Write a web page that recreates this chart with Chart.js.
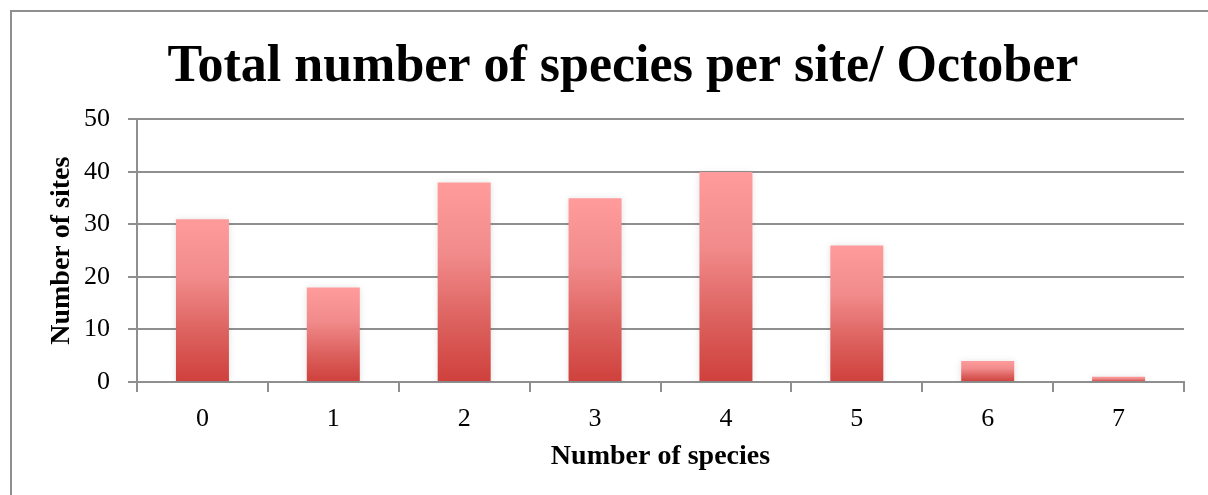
<!DOCTYPE html>
<html>
<head>
<meta charset="utf-8">
<script src="https://cdn.jsdelivr.net/npm/chart.js@4.4.1/dist/chart.umd.min.js"></script>
<style>
  html, body { margin: 0; padding: 0; background: #fff; overflow: hidden; }
  #frame { position: absolute; left: 10px; top: 10px; width: 1400px; height: 700px;
           border-left: 2px solid #8f8f8f; border-top: 2px solid #8f8f8f; }
  #chart { position: absolute; left: 0; top: 0; }
</style>
</head>
<body>
<div id="frame"></div>
<canvas id="chart" width="1208" height="495"></canvas>
<script>
'use strict';

// ── データ ────────────────────────────────────────────────
const speciesCounts = ['0', '1', '2', '3', '4', '5', '6', '7'];
const siteCounts    = [31, 18, 38, 35, 40, 26, 4, 1];
const yTicks        = [0, 10, 20, 30, 40, 50];

const titleText  = 'Total number of species per site/ October';
const xTitleText = 'Number of species';
const yTitleText = 'Number of sites';

const GRID = '#8f8f8f';
const SERIF = "'Liberation Serif', 'DejaVu Serif', serif";

// ── バーのグラデーション（各バー上端→下端）─────────────────
function barGradient(ctx) {
  const chart = ctx.chart;
  if (!chart.chartArea || ctx.parsed == null) return '#e57373';
  const y = chart.scales.y;
  const top = y.getPixelForValue(ctx.parsed.y);
  const bottom = y.getPixelForValue(0);
  const g = chart.ctx.createLinearGradient(0, top, 0, bottom + 0.01);
  g.addColorStop(0, '#ff9b9b');
  g.addColorStop(0.35, '#f28c8c');
  g.addColorStop(0.7, '#dc615e');
  g.addColorStop(1, '#cf403c');
  return g;
}

// ── 影 ────────────────────────────────────────────────────
const barShadow = {
  id: 'barShadow',
  beforeDatasetDraw(chart) {
    const c = chart.ctx;
    c.save();
    c.shadowColor = 'rgba(0,0,0,0.13)';
    c.shadowBlur = 7;
    c.shadowOffsetX = 0;
    c.shadowOffsetY = 1;
  },
  afterDatasetDraw(chart) {
    chart.ctx.restore();
  },
};

new Chart(document.getElementById('chart').getContext('2d'), {
  type: 'bar',
  data: {
    labels: speciesCounts,
    datasets: [{
      data: siteCounts,
      backgroundColor: barGradient,
      borderWidth: 0,
      barPercentage: 0.405,
      categoryPercentage: 1,
    }],
  },
  options: {
    responsive: false,
    animation: false,
    // 左余白はタイトルの中心位置合わせ用
    layout: { padding: { left: 62, right: 24, top: 0, bottom: 18 } },
    plugins: {
      legend: { display: false },
      tooltip: { enabled: false },
      title: {
        display: true,
        text: titleText,
        color: '#000',
        font: { family: SERIF, size: 52, weight: 'bold' },
        padding: { top: 36, bottom: 21 },
      },
    },
    scales: {
      x: {
        offset: true,
        grid: {
          offset: true,
          drawOnChartArea: false,
          drawTicks: true,
          tickLength: 10,
          color: GRID,
          lineWidth: 2,
        },
        border: { color: GRID, width: 2 },
        ticks: { color: '#000', padding: 12, font: { family: SERIF, size: 26 } },
        title: {
          display: true,
          text: xTitleText,
          color: '#000',
          font: { family: SERIF, size: 28, weight: 'bold' },
          padding: { top: 0, bottom: 3 },
        },
        afterFit(scale) { scale.height = 95; },
      },
      y: {
        min: 0,
        max: 50,
        afterBuildTicks(scale) { scale.ticks = yTicks.map(v => ({ value: v })); },
        grid: {
          color: GRID,
          lineWidth: 2,
          drawTicks: true,
          tickLength: 9,
        },
        border: { color: GRID, width: 2 },
        ticks: { color: '#000', padding: 18, font: { family: SERIF, size: 26 } },
        title: {
          display: true,
          text: yTitleText,
          color: '#000',
          font: { family: SERIF, size: 28, weight: 'bold' },
          padding: { top: -17, bottom: 0 },
        },
        afterFit(scale) { scale.width = 75; },
      },
    },
  },
  plugins: [barShadow],
});
</script>
</body>
</html>
